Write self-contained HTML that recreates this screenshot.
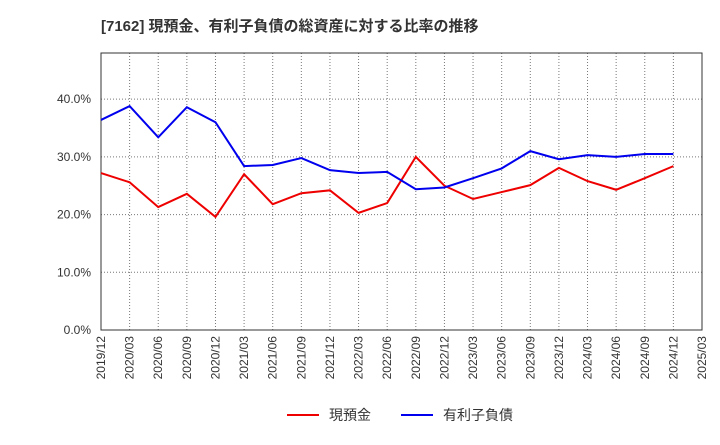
<!DOCTYPE html>
<html><head><meta charset="utf-8"><style>
body{margin:0;background:#fff;font-family:"Liberation Sans","Noto Sans CJK JP",sans-serif;}
</style></head><body>
<svg id="chart" width="720" height="440" xmlns="http://www.w3.org/2000/svg">
<text x="101" y="31" font-size="15" font-weight="bold" fill="#333" font-family="Liberation Sans, Noto Sans CJK JP, sans-serif">[7162]  現預金、有利子負債の総資産に対する比率の推移</text>
<g id="grid"></g><g id="axes"></g><g id="series"></g>
<g>
<line x1="287" y1="415" x2="319" y2="415" stroke="#e00" stroke-width="2"/>
<text x="329" y="420" font-size="14" fill="#333" font-family="Liberation Sans, Noto Sans CJK JP, sans-serif">現預金</text>
<line x1="401" y1="415" x2="433" y2="415" stroke="#00e" stroke-width="2"/>
<text x="443" y="420" font-size="14" fill="#333" font-family="Liberation Sans, Noto Sans CJK JP, sans-serif">有利子負債</text>
</g>
</svg>
<script>
const categories=["2019/12","2020/03","2020/06","2020/09","2020/12","2021/03","2021/06","2021/09","2021/12","2022/03","2022/06","2022/09","2022/12","2023/03","2023/06","2023/09","2023/12","2024/03","2024/06","2024/09","2024/12","2025/03"];
const cashValues=[27.2,25.6,21.3,23.6,19.6,27.0,21.8,23.7,24.2,20.3,22.0,30.0,25.0,22.7,23.9,25.1,28.1,25.8,24.3,26.3,28.4];
const debtValues=[36.4,38.8,33.4,38.6,36.0,28.4,28.6,29.8,27.7,27.2,27.4,24.4,24.7,26.3,28.0,31.0,29.6,30.3,30.0,30.5,30.5];
const yTicks=[0,10,20,30,40];
const NS="http://www.w3.org/2000/svg";
const L=101,R=702,T=53,B=330;
const x=i=>L+(R-L)*i/(categories.length-1);
const y=v=>B-(B-T)*v/48;
function mk(t,a,p){const e=document.createElementNS(NS,t);for(const k in a)e.setAttribute(k,a[k]);p.appendChild(e);return e;}
const grid=document.getElementById('grid'),axes=document.getElementById('axes'),series=document.getElementById('series');
mk('rect',{x:L,y:T,width:R-L,height:B-T,fill:'none',stroke:'#333','stroke-width':1},axes);
categories.forEach((c,i)=>{
  if(i>0&&i<categories.length-1){const g=mk('line',{x1:x(i),x2:x(i),y1:T,y2:B,stroke:'#777','stroke-dasharray':'1,2'},grid);
  
  }
  const t=mk('text',{x:0,y:0,'font-size':12,fill:'#333','text-anchor':'end',transform:`translate(${x(i)+4},${B+6}) rotate(-90)`},axes);
  t.textContent=c;
  
  
});
yTicks.forEach(v=>{
  if(v>0){const g=mk('line',{x1:L,x2:R,y1:y(v),y2:y(v),stroke:'#777','stroke-dasharray':'1,2'},grid);
  
  }
  const t=mk('text',{x:L-10,y:y(v)+4,'font-size':12,fill:'#333','text-anchor':'end'},axes);
  t.textContent=v.toFixed(1)+'%';
  
  
});
function line(vals,col,name){
  const p=mk('polyline',{points:vals.map((v,i)=>x(i)+','+y(v)).join(' '),fill:'none',stroke:col,'stroke-width':2},series);
  
  
}
line(cashValues,'#e00','cash-line');
line(debtValues,'#00e','debt-line');
</script>
</body></html>
